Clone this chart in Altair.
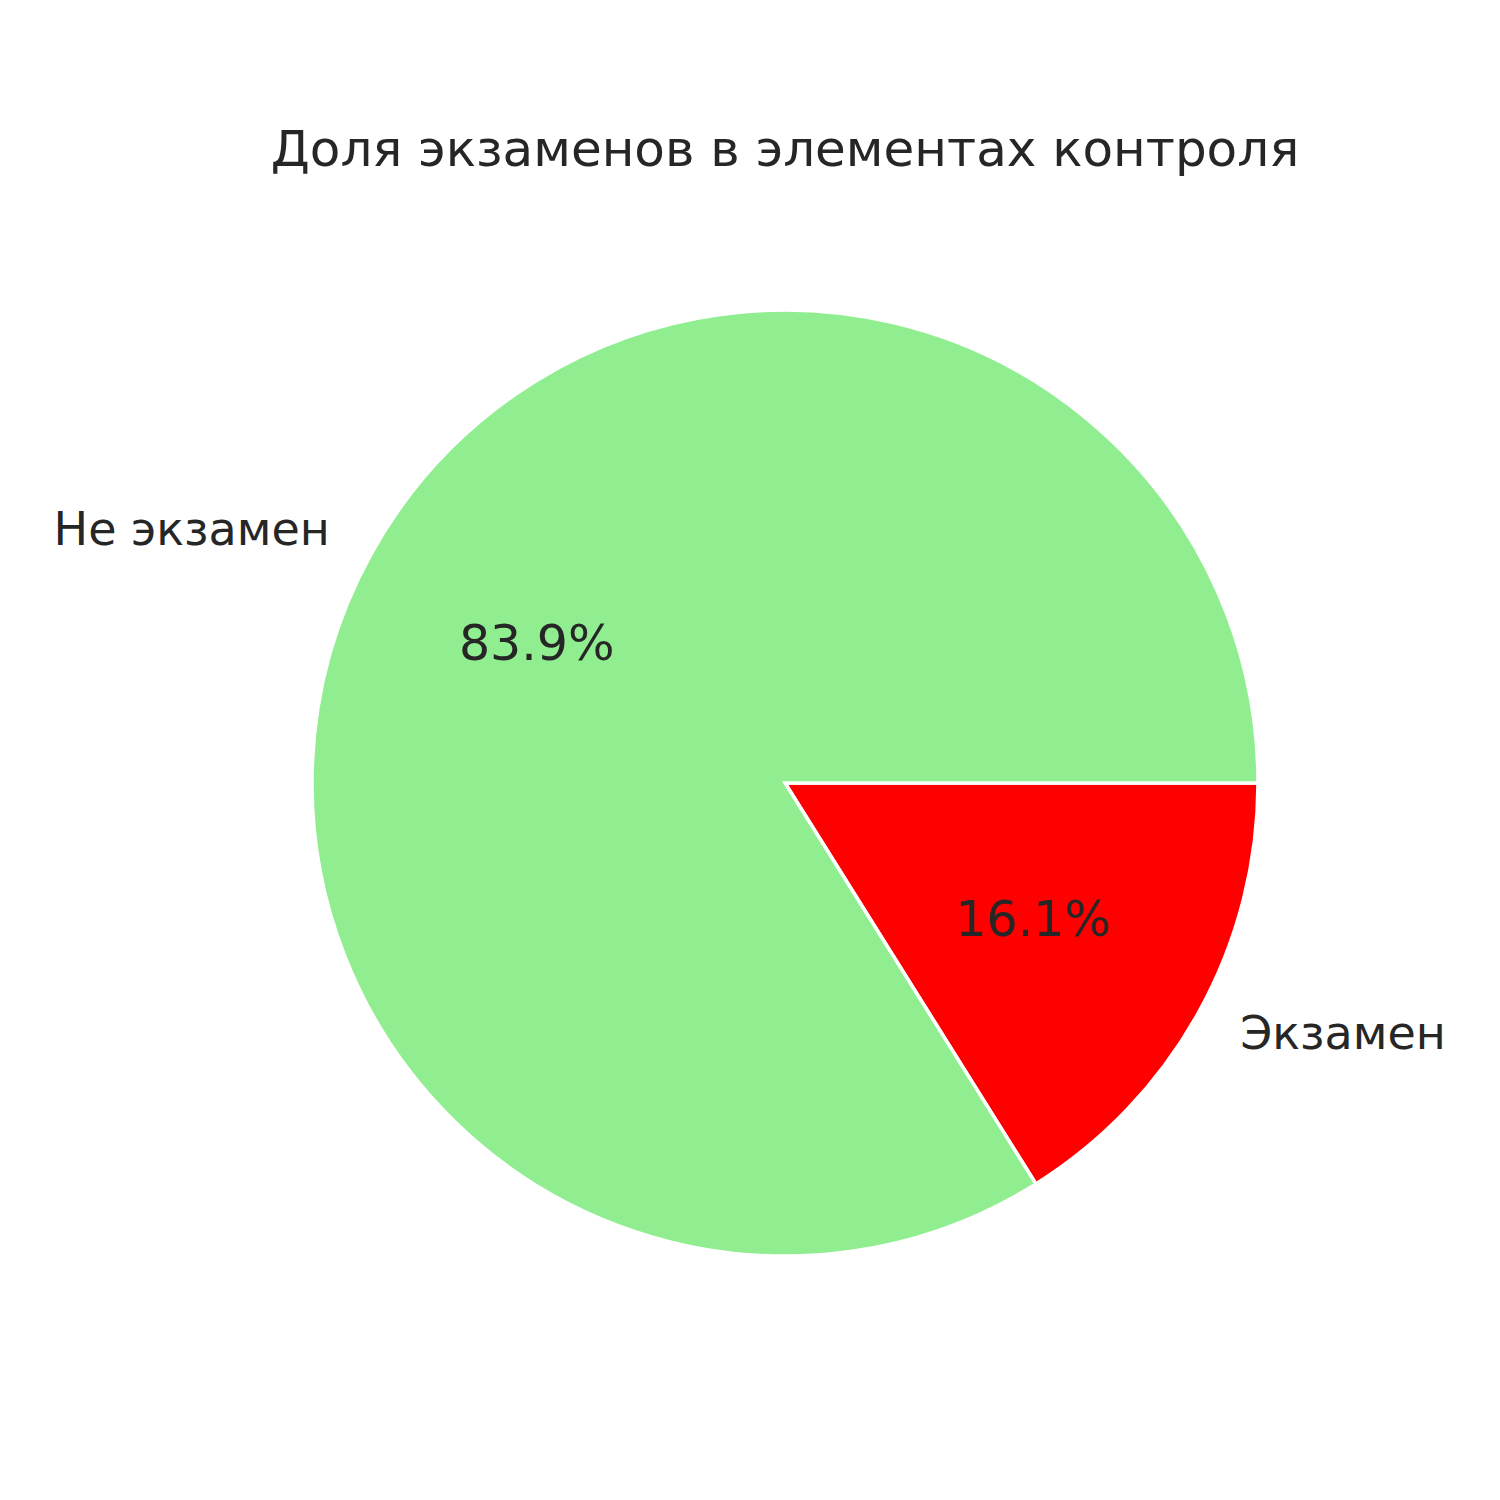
import math
import altair as alt
import pandas as pd

labels = ["Экзамен", "Не экзамен"]
values = [16.1, 83.9]
pct_text = ["16.1%", "83.9%"]
colors = ["#FF0000", "#90EE90"]
order = [0, 1]

df = pd.DataFrame({"label": labels, "value": values, "pct": pct_text, "order": order})

CX, CY, R = 785, 783, 473
theta_scale = alt.Scale(domain=[0, 100], range=[math.pi / 2, math.pi / 2 + 2 * math.pi])
FONT = "DejaVu Sans"
TXT = "#262626"

base = alt.Chart(df).transform_window(
    cum="sum(value)", sort=[alt.SortField("order")], frame=[None, 0]
).transform_calculate(
    start="datum.cum - datum.value", mid="datum.cum - datum.value / 2"
)

arcs = base.mark_arc(radius=R, stroke="white", strokeWidth=3.5).encode(
    theta=alt.Theta("start:Q", scale=theta_scale),
    theta2="cum:Q",
    color=alt.Color("label:N", scale=alt.Scale(domain=labels, range=colors), legend=None),
    x=alt.value(CX),
    y=alt.value(CY),
)

pcts = base.mark_text(radius=R * 0.6, font=FONT, fontSize=49, color=TXT, align="center", baseline="middle").encode(
    theta=alt.Theta("mid:Q", scale=theta_scale),
    text="pct:N",
    x=alt.value(CX),
    y=alt.value(CY),
)

lab_left = base.transform_filter(alt.datum.label == "Не экзамен").mark_text(
    radius=R * 1.1, font=FONT, fontSize=46, color=TXT, align="right", baseline="middle"
).encode(
    theta=alt.Theta("mid:Q", scale=theta_scale),
    text="label:N",
    x=alt.value(CX),
    y=alt.value(CY),
)

lab_right = base.transform_filter(alt.datum.label == "Экзамен").mark_text(
    radius=R * 1.1, font=FONT, fontSize=46, color=TXT, align="left", baseline="middle"
).encode(
    theta=alt.Theta("mid:Q", scale=theta_scale),
    text="label:N",
    x=alt.value(CX),
    y=alt.value(CY),
)

title = alt.Chart(pd.DataFrame({"t": ["Доля экзаменов в элементах контроля"]})).mark_text(
    font=FONT, fontSize=50, color=TXT, align="center", baseline="middle"
).encode(text="t:N", x=alt.value(CX), y=alt.value(151))

chart = alt.layer(arcs, pcts, lab_left, lab_right, title).properties(
    width=1500, height=1500, autosize=alt.AutoSizeParams(type="none"), padding=0, background="white"
).configure_view(stroke=None)

chart.save("out.html", embed_options={"renderer": "svg", "actions": False})
